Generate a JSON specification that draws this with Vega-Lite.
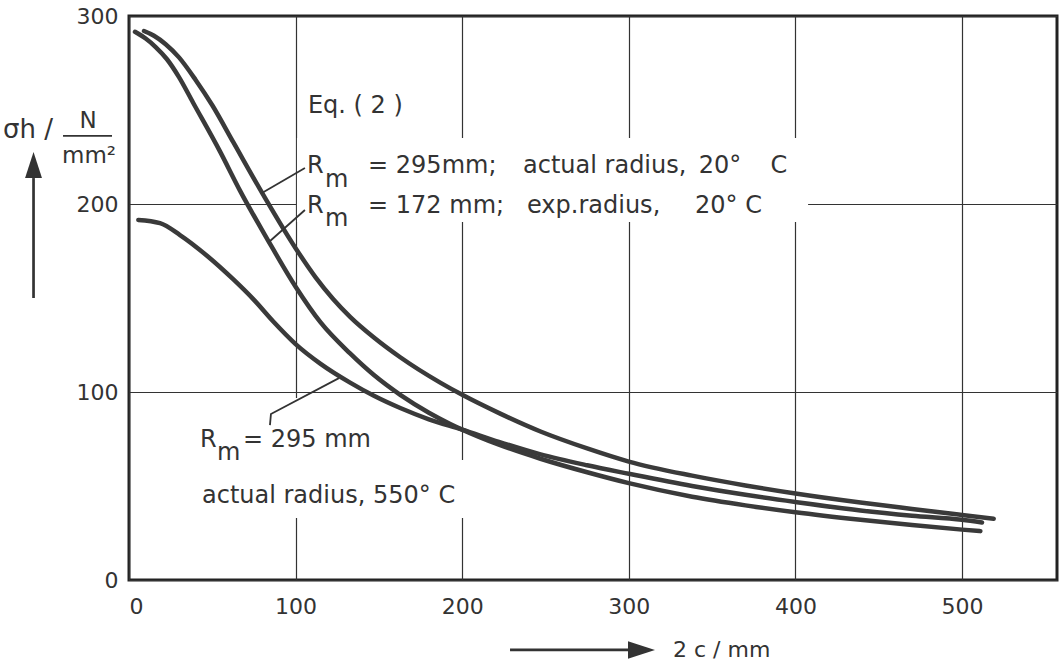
{
  "$schema": "https://vega.github.io/schema/vega-lite/v6.json",
  "width": 928,
  "height": 564,
  "autosize": {"type": "none"},
  "padding": {"left": 129, "top": 16, "right": 5, "bottom": 82},
  "background": "white",
  "config": {
    "view": {"stroke": "#222", "strokeWidth": 3},
    "font": "DejaVu Sans",
    "axis": {
      "grid": true,
      "gridColor": "#333",
      "gridWidth": 1.2,
      "ticks": false,
      "domain": false,
      "labelFont": "DejaVu Sans",
      "labelFontSize": 22,
      "labelColor": "#333",
      "title": null
    }
  },
  "datasets": {
    "curves": [
      {"s": "a", "x": 9, "y": 292}, {"s": "a", "x": 15, "y": 289.5}, {"s": "a", "x": 22, "y": 285}, {"s": "a", "x": 30, "y": 278},
      {"s": "a", "x": 40, "y": 266}, {"s": "a", "x": 50, "y": 252.5}, {"s": "a", "x": 62.5, "y": 233}, {"s": "a", "x": 80.5, "y": 205},
      {"s": "a", "x": 100, "y": 176.5}, {"s": "a", "x": 112, "y": 161}, {"s": "a", "x": 122.5, "y": 149.5}, {"s": "a", "x": 132.7, "y": 140},
      {"s": "a", "x": 147, "y": 129}, {"s": "a", "x": 162.8, "y": 118.5}, {"s": "a", "x": 186.8, "y": 105}, {"s": "a", "x": 200, "y": 98.5},
      {"s": "a", "x": 222.8, "y": 88.5}, {"s": "a", "x": 247, "y": 79}, {"s": "a", "x": 275, "y": 70}, {"s": "a", "x": 300, "y": 63},
      {"s": "a", "x": 338, "y": 55.5}, {"s": "a", "x": 370, "y": 50.3}, {"s": "a", "x": 400, "y": 46}, {"s": "a", "x": 439, "y": 41.2},
      {"s": "a", "x": 470, "y": 37.8}, {"s": "a", "x": 500, "y": 34.6}, {"s": "a", "x": 519, "y": 32.6},
      {"s": "b", "x": 3.6, "y": 291.6}, {"s": "b", "x": 10, "y": 288}, {"s": "b", "x": 16, "y": 283.5}, {"s": "b", "x": 22.8, "y": 277},
      {"s": "b", "x": 30, "y": 267.5}, {"s": "b", "x": 38.4, "y": 254}, {"s": "b", "x": 54.6, "y": 228}, {"s": "b", "x": 66.7, "y": 207},
      {"s": "b", "x": 82.9, "y": 181.5}, {"s": "b", "x": 100, "y": 156}, {"s": "b", "x": 115, "y": 137}, {"s": "b", "x": 132.7, "y": 120.5},
      {"s": "b", "x": 147, "y": 109}, {"s": "b", "x": 162.8, "y": 98.5}, {"s": "b", "x": 180, "y": 89}, {"s": "b", "x": 192.8, "y": 83},
      {"s": "b", "x": 200, "y": 80}, {"s": "b", "x": 222, "y": 72}, {"s": "b", "x": 247, "y": 64.5}, {"s": "b", "x": 275, "y": 57.3},
      {"s": "b", "x": 300, "y": 51.5}, {"s": "b", "x": 338, "y": 44.3}, {"s": "b", "x": 370, "y": 39.7}, {"s": "b", "x": 400, "y": 36},
      {"s": "b", "x": 439, "y": 32}, {"s": "b", "x": 470, "y": 29.2}, {"s": "b", "x": 500, "y": 26.8}, {"s": "b", "x": 511, "y": 26},
      {"s": "c", "x": 5.6, "y": 191.5}, {"s": "c", "x": 18.6, "y": 189.8}, {"s": "c", "x": 30.6, "y": 183.5}, {"s": "c", "x": 46.8, "y": 172.5},
      {"s": "c", "x": 62.5, "y": 160}, {"s": "c", "x": 75, "y": 149}, {"s": "c", "x": 86.6, "y": 137.5}, {"s": "c", "x": 100, "y": 125.5},
      {"s": "c", "x": 115, "y": 115}, {"s": "c", "x": 132.7, "y": 105}, {"s": "c", "x": 147, "y": 98}, {"s": "c", "x": 162.8, "y": 91.5},
      {"s": "c", "x": 180, "y": 85.5}, {"s": "c", "x": 200, "y": 80}, {"s": "c", "x": 222, "y": 73.5}, {"s": "c", "x": 247, "y": 66.8},
      {"s": "c", "x": 275, "y": 61}, {"s": "c", "x": 300, "y": 56.5}, {"s": "c", "x": 338, "y": 50}, {"s": "c", "x": 370, "y": 45.3},
      {"s": "c", "x": 400, "y": 41.5}, {"s": "c", "x": 439, "y": 37}, {"s": "c", "x": 470, "y": 34.2}, {"s": "c", "x": 500, "y": 32},
      {"s": "c", "x": 512, "y": 30.6}
    ],
    "gaps": [
      {"x": 100.8, "x2": 407.6, "y": 235.1, "y2": 190.4},
      {"x": 36.6, "x2": 102.6, "y": 96.8, "y2": 33},
      {"x": 102.6, "x2": 213.7, "y": 63.8, "y2": 33}
    ],
    "leaders": [
      {"id": "l1", "o": 1, "x": 105.6, "y": 219.1}, {"id": "l1", "o": 2, "x": 79.8, "y": 205.9},
      {"id": "l2", "o": 1, "x": 105.6, "y": 196.8}, {"id": "l2", "o": 2, "x": 84, "y": 179.8},
      {"id": "l3", "o": 1, "x": 84.6, "y": 82.4}, {"id": "l3", "o": 2, "x": 85.2, "y": 88.3}, {"id": "l3", "o": 3, "x": 126, "y": 107.4},
      {"id": "frac", "o": 1, "x": -39.6, "y": 236.2}, {"id": "frac", "o": 2, "x": -10.2, "y": 236.2}
    ],
    "shafts": [
      {"id": "ax", "o": 1, "x": 228.7, "y": -37.2}, {"id": "ax", "o": 2, "x": 300.7, "y": -37.2},
      {"id": "ay", "o": 1, "x": -57.3, "y": 150}, {"id": "ay", "o": 2, "x": -57.3, "y": 213.8}
    ],
    "headx": [{"x": 307.6, "y": -37.2}],
    "heady": [{"x": -57.3, "y": 220.7}],
    "texts": [
      {"t": "Eq. ( 2 )", "x": 107.4, "y": 248.4},
      {"t": "R", "x": 106.8, "y": 216.5},
      {"t": "m", "x": 117.6, "y": 209.0},
      {"t": "= 295mm;", "x": 143.5, "y": 216.5},
      {"t": "actual radius,", "x": 236.5, "y": 216.5},
      {"t": "20°", "x": 342, "y": 216.5},
      {"t": "C", "x": 385, "y": 216.5},
      {"t": "R", "x": 106.8, "y": 195.2},
      {"t": "m", "x": 117.6, "y": 188.3},
      {"t": "= 172 mm;", "x": 143.5, "y": 195.2},
      {"t": "exp.radius,", "x": 238.9, "y": 195.2},
      {"t": "20° C", "x": 339.7, "y": 195.2},
      {"t": "R", "x": 42.6, "y": 70.7},
      {"t": "m", "x": 52.8, "y": 63.8},
      {"t": "= 295 mm", "x": 68.4, "y": 70.7},
      {"t": "actual radius, 550° C", "x": 43.8, "y": 41}
    ],
    "ytitle": [
      {"t": "σh /", "x": -75.6, "y": 235.1}
    ],
    "xtitle": [
      {"t": "2 c / mm", "x": 326.5, "y": -37}
    ],
    "ctexts": [
      {"t": "N", "x": -24.6, "y": 240.4},
      {"t": "mm²", "x": -24, "y": 221.8}
    ]
  },
  "layer": [
    {
      "data": {"name": "gaps"},
      "mark": {"type": "rect", "fill": "white", "stroke": null},
      "encoding": {
        "x": {"field": "x", "type": "quantitative", "scale": {"domain": [0, 557], "nice": false, "zero": false},
              "axis": {"values": [0, 100, 200, 300, 400, 500], "labelPadding": 16}},
        "x2": {"field": "x2"},
        "y": {"field": "y", "type": "quantitative", "scale": {"domain": [0, 300], "nice": false, "zero": false},
              "axis": {"values": [0, 100, 200, 300], "labelPadding": 11}},
        "y2": {"field": "y2"}
      }
    },
    {
      "data": {"name": "curves"},
      "mark": {"type": "line", "interpolate": "monotone", "strokeWidth": 4.5, "color": "#3a3a3a", "strokeCap": "round"},
      "encoding": {
        "x": {"field": "x", "type": "quantitative"},
        "y": {"field": "y", "type": "quantitative"},
        "detail": {"field": "s"}
      }
    },
    {
      "data": {"name": "leaders"},
      "mark": {"type": "line", "strokeWidth": 1.8, "color": "#333"},
      "encoding": {
        "x": {"field": "x", "type": "quantitative"},
        "y": {"field": "y", "type": "quantitative"},
        "detail": {"field": "id"},
        "order": {"field": "o"}
      }
    },
    {
      "data": {"name": "shafts"},
      "mark": {"type": "line", "strokeWidth": 2.7, "color": "#333"},
      "encoding": {
        "x": {"field": "x", "type": "quantitative"},
        "y": {"field": "y", "type": "quantitative"},
        "detail": {"field": "id"},
        "order": {"field": "o"}
      }
    },
    {
      "data": {"name": "headx"},
      "mark": {"type": "point", "shape": "M-1,-0.65L1,0L-1,0.65Z", "size": 729, "filled": true, "color": "#333", "opacity": 1},
      "encoding": {
        "x": {"field": "x", "type": "quantitative"},
        "y": {"field": "y", "type": "quantitative"}
      }
    },
    {
      "data": {"name": "heady"},
      "mark": {"type": "point", "shape": "M-0.65,1L0,-1L0.65,1Z", "size": 676, "filled": true, "color": "#333", "opacity": 1},
      "encoding": {
        "x": {"field": "x", "type": "quantitative"},
        "y": {"field": "y", "type": "quantitative"}
      }
    },
    {
      "data": {"name": "texts"},
      "mark": {"type": "text", "align": "left", "baseline": "alphabetic", "fontSize": 24, "font": "DejaVu Sans", "color": "#333"},
      "encoding": {
        "x": {"field": "x", "type": "quantitative"},
        "y": {"field": "y", "type": "quantitative"},
        "text": {"field": "t"}
      }
    },
    {
      "data": {"name": "ytitle"},
      "mark": {"type": "text", "align": "left", "baseline": "alphabetic", "fontSize": 26, "font": "DejaVu Sans", "color": "#333"},
      "encoding": {
        "x": {"field": "x", "type": "quantitative"},
        "y": {"field": "y", "type": "quantitative"},
        "text": {"field": "t"}
      }
    },
    {
      "data": {"name": "xtitle"},
      "mark": {"type": "text", "align": "left", "baseline": "middle", "fontSize": 22, "font": "DejaVu Sans", "color": "#333"},
      "encoding": {
        "x": {"field": "x", "type": "quantitative"},
        "y": {"field": "y", "type": "quantitative"},
        "text": {"field": "t"}
      }
    },
    {
      "data": {"name": "ctexts"},
      "mark": {"type": "text", "align": "center", "baseline": "alphabetic", "fontSize": 23, "font": "DejaVu Sans", "color": "#333"},
      "encoding": {
        "x": {"field": "x", "type": "quantitative"},
        "y": {"field": "y", "type": "quantitative"},
        "text": {"field": "t"}
      }
    }
  ]
}
